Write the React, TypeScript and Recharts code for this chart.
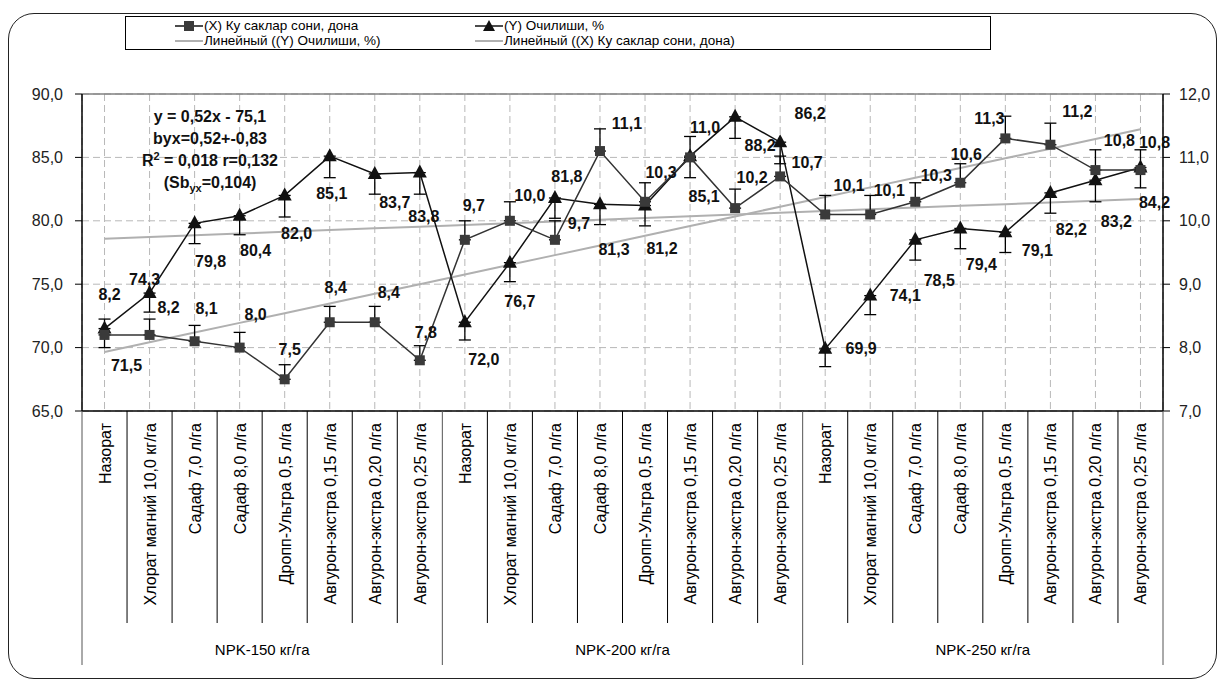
import React from "react";
import {
  CartesianGrid,
  ComposedChart,
  ErrorBar,
  LabelList,
  Line,
  ReferenceLine,
  XAxis,
  YAxis,
} from "recharts";

const GROUPS = ["NPK-150 кг/га", "NPK-200 кг/га", "NPK-250 кг/га"];
const TREATMENTS = [
  "Назорат",
  "Хлорат магний 10,0 кг/га",
  "Садаф 7,0 л/га",
  "Садаф 8,0 л/га",
  "Дропп-Ультра 0,5 л/га",
  "Авгурон-экстра 0,15 л/га",
  "Авгурон-экстра 0,20 л/га",
  "Авгурон-экстра 0,25 л/га",
];

// (X) Ку саклар сони, дона - right axis
const SHOOTS = [8.2, 8.2, 8.1, 8.0, 7.5, 8.4, 8.4, 7.8, 9.7, 10.0, 9.7, 11.1, 10.3, 11.0, 10.2, 10.7, 10.1, 10.1, 10.3, 10.6, 11.3, 11.2, 10.8, 10.8];
const SHOOTS_ERR = [0.25, 0.25, 0.25, 0.24, 0.23, 0.25, 0.25, 0.23, 0.3, 0.3, 0.3, 0.35, 0.3, 0.33, 0.3, 0.32, 0.3, 0.3, 0.3, 0.3, 0.35, 0.34, 0.32, 0.32];

// (Y) Очилиши, % - left axis
const OPENING = [71.5, 74.3, 79.8, 80.4, 82.0, 85.1, 83.7, 83.8, 72.0, 76.7, 81.8, 81.3, 81.2, 85.1, 88.2, 86.2, 69.9, 74.1, 78.5, 79.4, 79.1, 82.2, 83.2, 84.2];
const OPENING_ERR = [1.5, 1.5, 1.6, 1.5, 1.7, 1.7, 1.6, 1.7, 1.4, 1.5, 1.6, 1.6, 1.6, 1.7, 1.7, 1.7, 1.4, 1.5, 1.6, 1.6, 1.6, 1.6, 1.7, 1.6];

const LEFT_TICKS = [65, 70, 75, 80, 85, 90];
const RIGHT_TICKS = [7, 8, 9, 10, 11, 12];

// label nudges (dx, dy) relative to the point, as placed by hand in the original
const OPENING_LABEL_POS = [
  [22, 37], [-5, -14], [16, 38], [16, 35], [12, 38], [2, 37], [20, 29], [4, 44],
  [19, 37], [10, 39], [12, -21], [14, 45], [17, 43], [14, 40], [25, 29], [30, -29],
  [36, 0], [35, 0], [24, 41], [21, 36], [32, 18], [21, 37], [21, 41], [14, 35],
];
const SHOOTS_LABEL_POS = [
  [5, -40], [19, -27], [12, -33], [16, -33], [5, -30], [6, -35], [14, -30], [6, -28],
  [9, -34], [20, -25], [24, -16], [27, -28], [16, -29], [15, -30], [17, -31], [27, -14],
  [24, -29], [19, -24], [21, -26], [6, -28], [-16, -20], [27, -33], [24, -30], [14, -28],
];

const FONT = "'Liberation Sans', Arial, sans-serif";
const fmt = (v: number) => v.toFixed(1).replace(".", ",");

// least squares line, same as Excel's linear trendline
function linearFit(v: number[]) {
  const n = v.length;
  const mx = (n - 1) / 2;
  const my = v.reduce((a, b) => a + b, 0) / n;
  let sxy = 0;
  let sxx = 0;
  v.forEach((y, i) => {
    sxy += (i - mx) * (y - my);
    sxx += (i - mx) * (i - mx);
  });
  const b = sxy / sxx;
  return (i: number) => my + b * (i - mx);
}

const fitShoots = linearFit(SHOOTS);
const fitOpening = linearFit(OPENING);

const data = SHOOTS.map((s, i) => ({
  idx: i,
  shoots: s,
  shootsErr: [0, SHOOTS_ERR[i]],
  opening: OPENING[i],
  openingErr: [OPENING_ERR[i], 0],
  trendShoots: fitShoots(i),
  trendOpening: fitOpening(i),
}));

function CategoryTick(props: any) {
  const { x, y, payload } = props;
  const i = payload.value as number;
  const half = payload.offset || 22.5;
  const left = x - half;
  const groupStart = i % 8 === 0;
  return (
    <g>
      <line x1={left} y1={y} x2={left} y2={y + (groupStart ? 254 : 212)} stroke={groupStart ? "#555" : "#000"} />
      {i === data.length - 1 && <line x1={x + half} y1={y} x2={x + half} y2={y + 254} stroke="#555" />}
      <text
        transform={`translate(${x + 6},${y + 12}) rotate(-90)`}
        textAnchor="end"
        fontSize={16}
        fontFamily={FONT}
        fill="#000"
      >
        {TREATMENTS[i % 8]}
      </text>
      {i % 8 === 3 && (
        <text x={x + half} y={y + 244} textAnchor="middle" fontSize={15} fontFamily={FONT} fill="#000">
          {GROUPS[Math.floor(i / 8)]}
        </text>
      )}
    </g>
  );
}

const makeLabel = (pos: number[][]) => (props: any) => {
  const { x, y, value, index } = props;
  const [dx, dy] = pos[index];
  return (
    <text
      x={x + dx}
      y={y + dy}
      textAnchor="middle"
      dominantBaseline="central"
      fontSize={16}
      fontWeight="bold"
      fontFamily={FONT}
      fill="#111"
    >
      {fmt(value)}
    </text>
  );
};

const TriangleDot = (p: any) => {
  const { cx, cy, index } = p;
  if (cx == null || cy == null) return <g key={index} />;
  return <path key={index} d={`M${cx},${cy - 8} L${cx + 7},${cy + 5} L${cx - 7},${cy + 5} Z`} fill="#111" />;
};

const SquareDot = (p: any) => {
  const { cx, cy, index } = p;
  if (cx == null || cy == null) return <g key={index} />;
  return <rect key={index} x={cx - 5} y={cy - 5} width={10} height={10} fill="#3a3a3a" />;
};

function LegendItem({ x, y, kind, text }: { x: number; y: number; kind: string; text: string }) {
  return (
    <div style={{ position: "absolute", left: x, top: y - 6, height: 12, display: "flex", alignItems: "center" }}>
      <svg width={30} height={12}>
        <line x1={1} y1={6} x2={29} y2={6} stroke={kind === "trend" ? "#b0b0b0" : "#111"} strokeWidth={kind === "trend" ? 2 : 1.5} />
        {kind === "square" && <rect x={10} y={1} width={10} height={10} fill="#3a3a3a" />}
        {kind === "triangle" && <path d="M15,0 L21,11 L9,11 Z" fill="#111" />}
      </svg>
      <span style={{ fontSize: 13.5, fontFamily: FONT, lineHeight: "12px", whiteSpace: "nowrap" }}>{text}</span>
    </div>
  );
}

export default function App() {
  return (
    <div style={{ position: "fixed", left: 0, top: 0, width: 1224, height: 682, background: "#fff", fontFamily: FONT }}>
      <div
        style={{
          position: "absolute",
          left: 8,
          top: 13,
          width: 1207,
          height: 664,
          border: "1.5px solid #222",
          borderRadius: 26,
        }}
      />
      <ComposedChart
        width={1224}
        height={682}
        data={data}
        margin={{ top: 94, right: 11, bottom: 11, left: 22 }}
        style={{ position: "absolute", left: 0, top: 0 }}
      >
        <CartesianGrid yAxisId="left" stroke="#b8b8b8" strokeDasharray="7 4" />
        <ReferenceLine yAxisId="left" y={90} stroke="#808080" strokeWidth={1.5} />
        <XAxis
          dataKey="idx"
          type="category"
          scale="band"
          interval={0}
          height={260}
          tickSize={0}
          tickMargin={0}
          tickLine={false}
          axisLine={{ stroke: "#000", strokeWidth: 1.5 }}
          tick={(p: any) => <CategoryTick {...p} />}
        />
        <YAxis
          yAxisId="left"
          domain={[65, 90]}
          ticks={LEFT_TICKS}
          allowDataOverflow
          width={60}
          tickFormatter={fmt}
          tickSize={7}
          tickMargin={12}
          tick={{ fontSize: 16, fill: "#222", fontFamily: FONT }}
          axisLine={{ stroke: "#000", strokeWidth: 1.5 }}
          tickLine={{ stroke: "#000" }}
        />
        <YAxis
          yAxisId="right"
          orientation="right"
          domain={[7, 12]}
          ticks={RIGHT_TICKS}
          allowDataOverflow
          width={50}
          tickFormatter={fmt}
          tickSize={7}
          tickMargin={9}
          tick={{ fontSize: 16, fill: "#222", fontFamily: FONT }}
          axisLine={{ stroke: "#000", strokeWidth: 1.5 }}
          tickLine={{ stroke: "#000" }}
        />
        <Line yAxisId="left" dataKey="trendOpening" stroke="#b0b0b0" strokeWidth={2} dot={false} activeDot={false} isAnimationActive={false} />
        <Line yAxisId="right" dataKey="trendShoots" stroke="#b0b0b0" strokeWidth={2} dot={false} activeDot={false} isAnimationActive={false} />
        <Line
          yAxisId="left"
          dataKey="opening"
          type="linear"
          stroke="#111"
          strokeWidth={1.5}
          dot={TriangleDot}
          activeDot={false}
          isAnimationActive={false}
        >
          <ErrorBar dataKey="openingErr" direction="y" width={6} stroke="#000" strokeWidth={1.3} />
          <LabelList dataKey="opening" content={makeLabel(OPENING_LABEL_POS)} />
        </Line>
        <Line
          yAxisId="right"
          dataKey="shoots"
          type="linear"
          stroke="#333"
          strokeWidth={1.5}
          dot={SquareDot}
          activeDot={false}
          isAnimationActive={false}
        >
          <ErrorBar dataKey="shootsErr" direction="y" width={6} stroke="#000" strokeWidth={1.3} />
          <LabelList dataKey="shoots" content={makeLabel(SHOOTS_LABEL_POS)} />
        </Line>
      </ComposedChart>

      <div
        style={{
          position: "absolute",
          left: 110,
          top: 106,
          width: 200,
          textAlign: "center",
          fontWeight: "bold",
          fontSize: 16,
          lineHeight: "22px",
          color: "#111",
        }}
      >
        <div>y = 0,52x - 75,1</div>
        <div>byx=0,52+-0,83</div>
        <div>
          R<sup style={{ fontSize: 11, lineHeight: 0 }}>2</sup> = 0,018 r=0,132
        </div>
        <div>
          (Sb<sub style={{ fontSize: 11, lineHeight: 0 }}>yx</sub>=0,104)
        </div>
      </div>

      <div
        style={{
          position: "absolute",
          left: 125,
          top: 16,
          width: 864,
          height: 32,
          border: "1px solid #000",
          background: "#fff",
        }}
      />
      <LegendItem x={174} y={26} kind="square" text="(X) Ку саклар сони, дона" />
      <LegendItem x={474} y={26} kind="triangle" text="(Y) Очилиши, %" />
      <LegendItem x={174} y={41} kind="trend" text="Линейный ((Y) Очилиши, %)" />
      <LegendItem x={474} y={41} kind="trend" text="Линейный ((X) Ку саклар сони, дона)" />
    </div>
  );
}
